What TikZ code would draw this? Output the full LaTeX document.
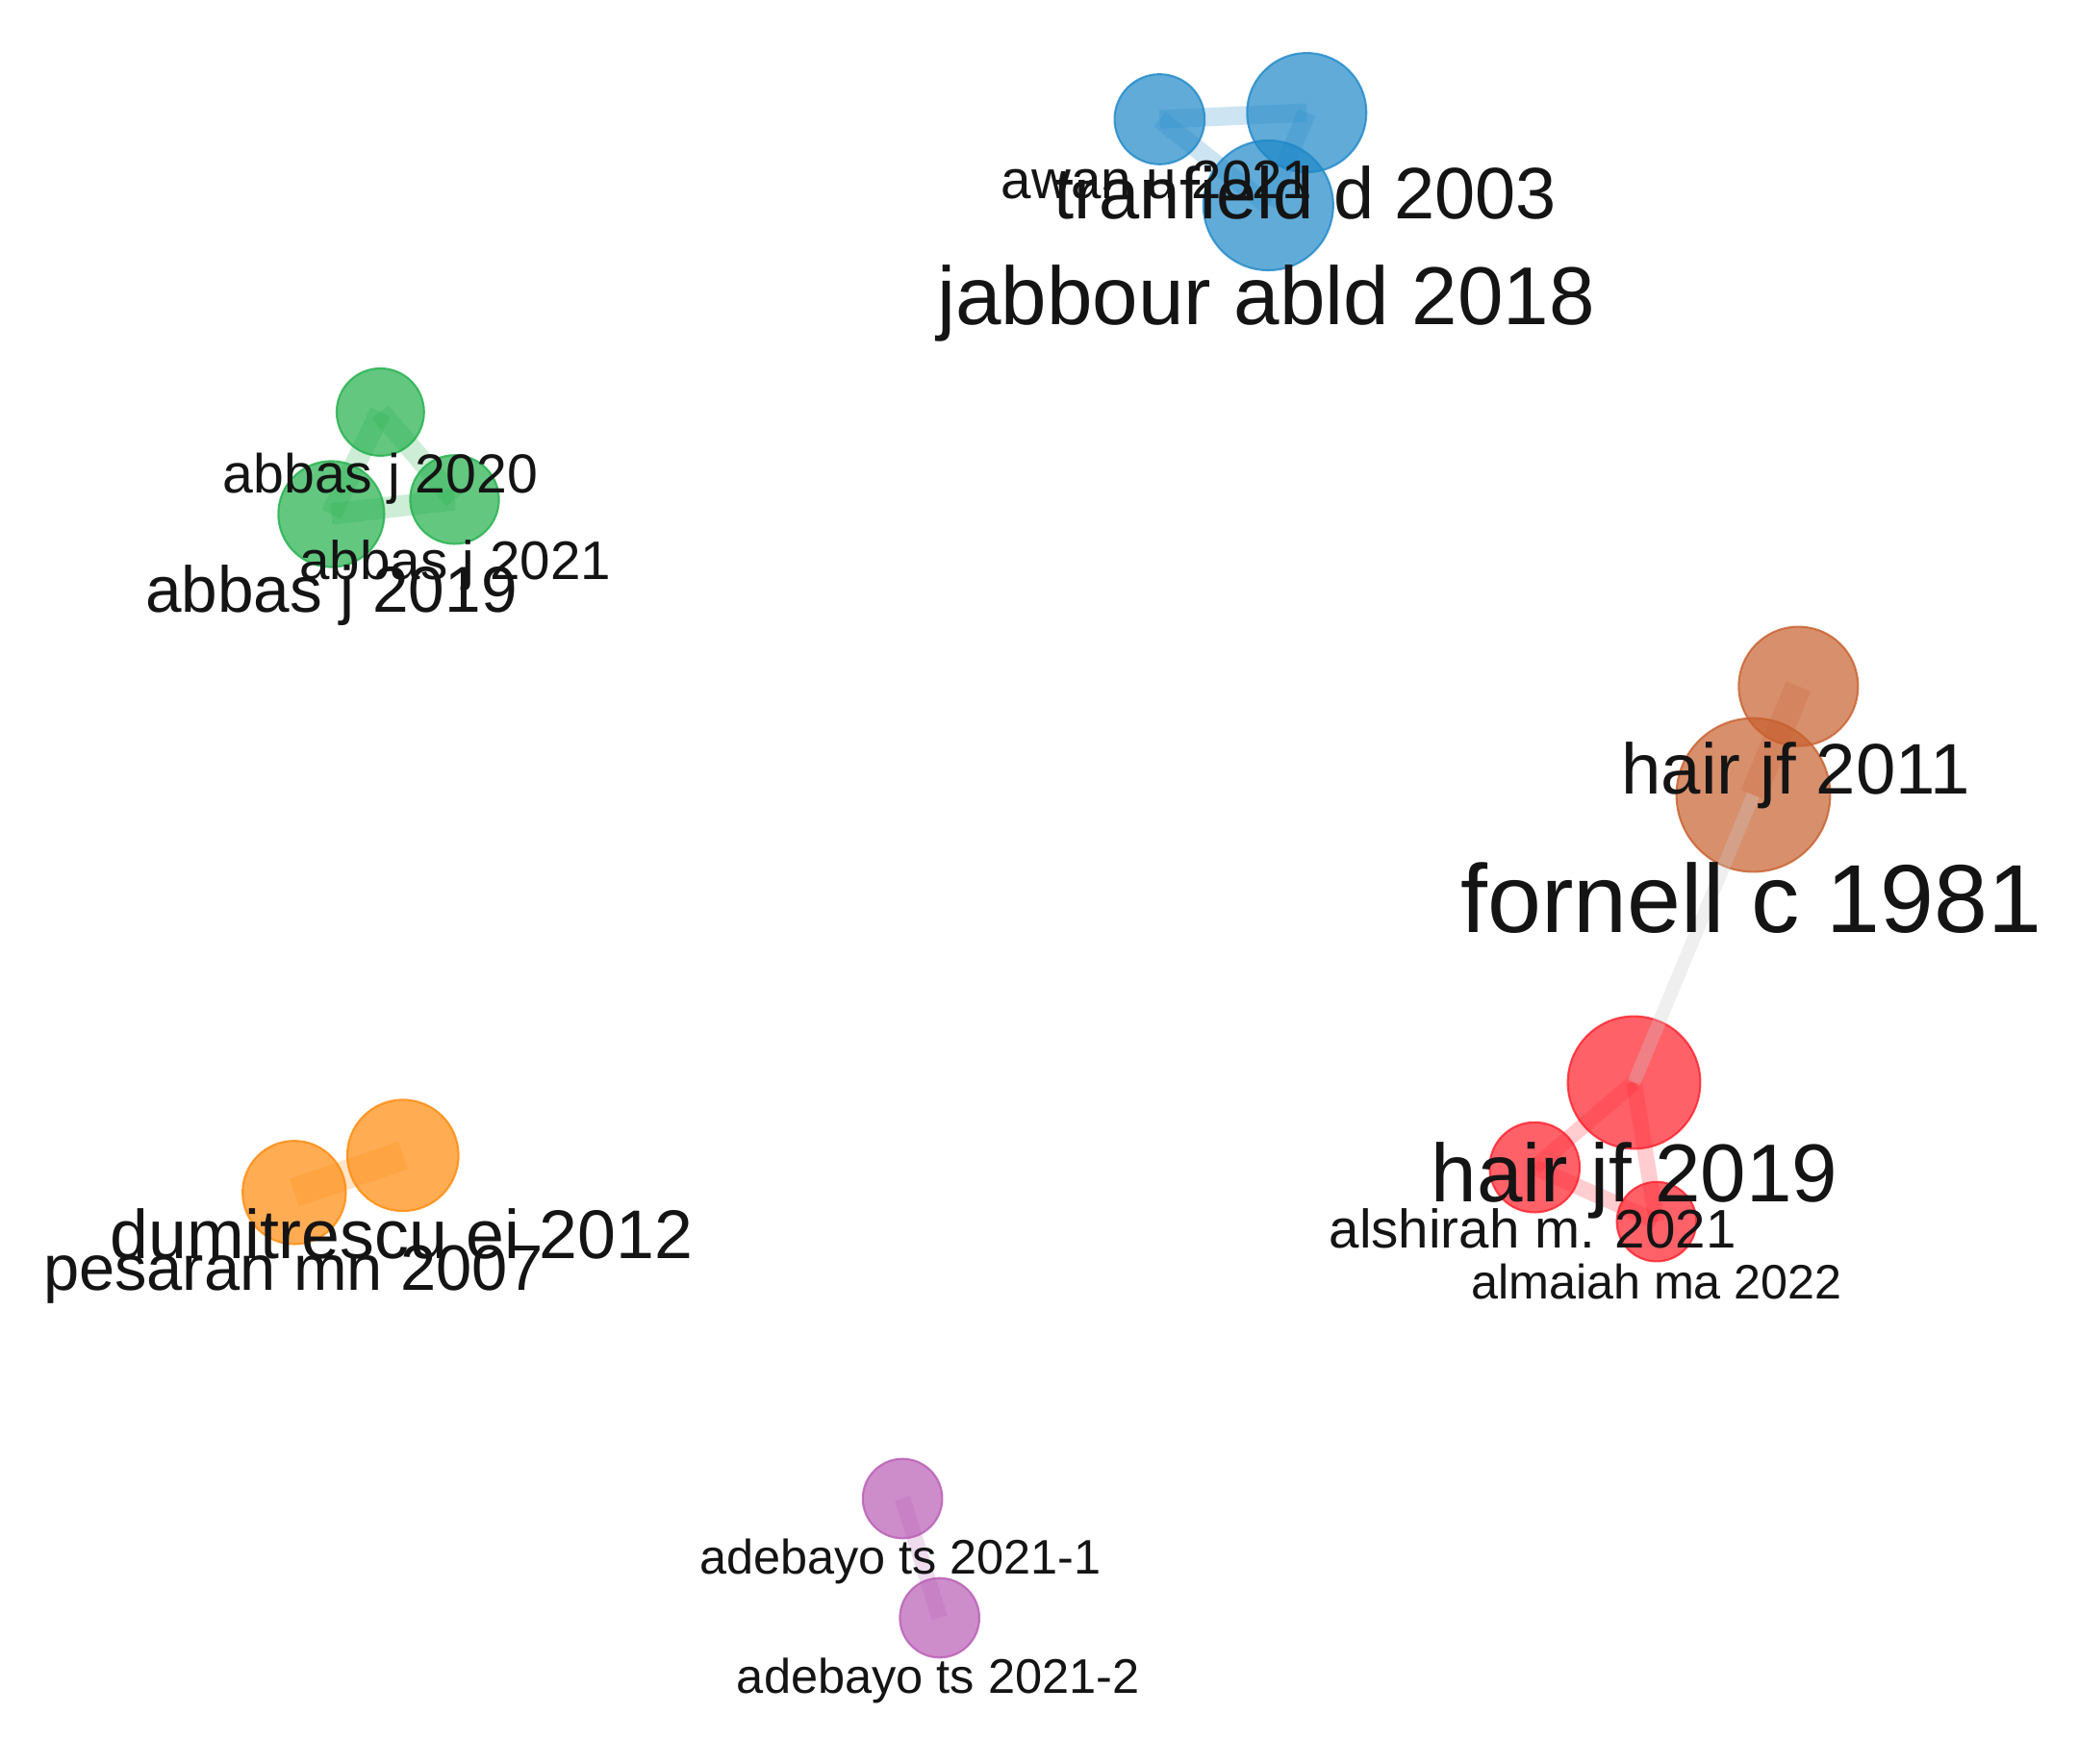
\documentclass[tikz,border=0pt]{standalone}
\usepackage{fontspec}
\setmainfont{Liberation Sans}
\definecolor{cblue}{HTML}{1F88C8}
\definecolor{cgreen}{HTML}{22B04B}
\definecolor{cred}{HTML}{FF1F2A}
\definecolor{corange}{HTML}{FF8A0A}
\definecolor{cbrown}{HTML}{C8602E}
\definecolor{cpurple}{HTML}{B85CB4}
\newcommand\szf[1]{\fontsize{#1pt}{#1pt}\selectfont}
\tikzset{
  nd/.style={circle, inner sep=0pt, line width=1.5pt, fill=#1, draw=#1, fill opacity=0.7, draw opacity=0.8},
  lk/.style={line width=14pt, draw=#1, draw opacity=0.22},
  lbl/.style={anchor=base, inner sep=0pt, text=black!92},
}
\begin{document}
\begin{tikzpicture}[x=1pt,y=-1pt]
\fill[white] (0,0) rectangle (1568,1331);
\useasboundingbox (0,0) rectangle (1568,1331);

% ---- blue cluster
\node[nd=cblue, minimum size=68] (awan) at (875,90) {};
\node[nd=cblue, minimum size=90] (tran) at (986,85) {};
\node[nd=cblue, minimum size=98] (jabb) at (957,155) {};
\draw[lk=cblue] (awan.center) -- (tran.center);
\draw[lk=cblue] (awan.center) -- (jabb.center);
\draw[lk=cblue] (tran.center) -- (jabb.center);

% ---- green cluster
\node[nd=cgreen, minimum size=66] (ab20) at (287,311) {};
\node[nd=cgreen, minimum size=80] (ab19) at (250,388) {};
\node[nd=cgreen, minimum size=67] (ab21) at (343,377) {};
\draw[lk=cgreen, line width=16pt] (ab20.center) -- (ab19.center);
\draw[lk=cgreen, line width=16pt] (ab20.center) -- (ab21.center);
\draw[lk=cgreen, line width=16pt] (ab19.center) -- (ab21.center);

% ---- orange cluster
\node[nd=corange, minimum size=78] (pes) at (222,900) {};
\node[nd=corange, minimum size=84] (dum) at (304,872) {};
\draw[lk=corange, line width=22pt] (pes.center) -- (dum.center);

% ---- brown cluster
\node[nd=cbrown, minimum size=90] (h11) at (1357,518) {};
\node[nd=cbrown, minimum size=116] (forn) at (1323,600) {};
\draw[lk=cbrown, line width=20pt] (h11.center) -- (forn.center);

% ---- red cluster
\node[nd=cred, minimum size=100] (h19) at (1233,817) {};
\node[nd=cred, minimum size=68] (alsh) at (1158,881) {};
\node[nd=cred, minimum size=60] (alma) at (1250,922) {};
\draw[lk=cred, line width=12pt] (h19.center) -- (alsh.center);
\draw[lk=cred, line width=12pt] (h19.center) -- (alma.center);
\draw[lk=cred, line width=12pt] (alsh.center) -- (alma.center);

% ---- link between brown and red
\draw[line width=10pt, draw=black!20, draw opacity=0.3] (forn.center) -- (h19.center);

% ---- purple cluster
\node[nd=cpurple, minimum size=60] (ade1) at (681,1131) {};
\node[nd=cpurple, minimum size=60] (ade2) at (709,1221) {};
\draw[lk=cpurple, line width=12pt] (ade1.center) -- (ade2.center);

% ---- labels
\node[lbl, font=\szf{41}] (lawan) at (873,150) {awan u 2021};
\node[lbl, font=\szf{55}] (ltran) at (985,165) {tranfield d 2003};
\node[lbl, font=\szf{62}] (ljabb) at (955.5,245) {jabbour abld 2018};

\node[lbl, font=\szf{41.5}] (lab20) at (287,372) {abbas j 2020};
\node[lbl, font=\szf{41}] (lab21) at (343.5,437) {abbas j 2021};
\node[lbl, font=\szf{49}] (lab19) at (250,462) {abbas j 2019};

\node[lbl, font=\szf{52}] (ldum) at (303,950) {dumitrescu ei 2012};
\node[lbl, font=\szf{48.5}] (lpes) at (221.5,974) {pesaran mn 2007};

\node[lbl, font=\szf{54}] (lh11) at (1355,599) {hair jf 2011};
\node[lbl, font=\szf{73}] (lforn) at (1321.5,704) {fornell c 1981};

\node[lbl, font=\szf{62}] (lh19) at (1233.5,907) {hair jf 2019};
\node[lbl, font=\szf{41}] (lalsh) at (1156.5,942) {alshirah m. 2021};
\node[lbl, font=\szf{36.5}] (lalma) at (1250,980) {almaiah ma 2022};

\node[lbl, font=\szf{36.6}] (lade1) at (679.5,1188) {adebayo ts 2021-1};
\node[lbl, font=\szf{36.7}] (lade2) at (708,1278) {adebayo ts 2021-2};
\end{tikzpicture}
\end{document}
